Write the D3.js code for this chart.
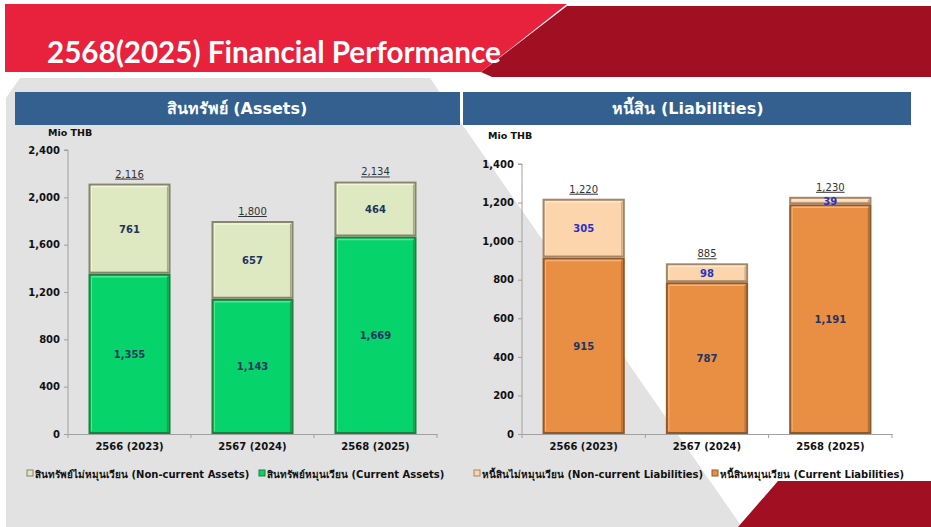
<!DOCTYPE html>
<html><head><meta charset="utf-8">
<script src="https://cdn.jsdelivr.net/npm/d3@7"></script>
<style>
html,body{margin:0;padding:0;background:#fff;}
svg{display:block;}
text{font-family:"DejaVu Sans","Noto Sans",sans-serif;}
</style></head>
<body><svg id="c" width="931" height="527"></svg>
<script>
const categories = ["2566 (2023)", "2567 (2024)", "2568 (2025)"];
const currentAssets = [1355, 1143, 1669];
const nonCurrentAssets = [761, 657, 464];
const totalAssets = [2116, 1800, 2134];
const currentLiabilities = [915, 787, 1191];
const nonCurrentLiabilities = [305, 98, 39];
const totalLiabilities = [1220, 885, 1230];
const assetTicks = [0, 400, 800, 1200, 1600, 2000, 2400];
const liabilityTicks = [0, 200, 400, 600, 800, 1000, 1200, 1400];
const titleText = "2568(2025) Financial Performance";
const assetsHeader = "สินทรัพย์ (Assets)";
const liabilitiesHeader = "หนี้สิน (Liabilities)";
const assetLegend = ["สินทรัพย์ไม่หมุนเวียน (Non-current Assets)", "สินทรัพย์หมุนเวียน (Current Assets)"];
const liabilityLegend = ["หนี้สินไม่หมุนเวียน (Non-current Liabilities)", "หนี้สินหมุนเวียน (Current Liabilities)"];
const unitLabel = "Mio THB";

const svg = d3.select("#c");
const fmt = d3.format(",");

// background decoration
svg.append("polygon").attr("points", "20,78 430,78 742,527 6,527 6,98").attr("fill", "#e2e2e2");
svg.append("polygon").attr("points", "567,6 931,6 931,77 492,77 481,72").attr("fill", "#a00f22");
svg.append("polygon").attr("points", "5,4 567,4 481,72 5,72").attr("fill", "#e8223d");
svg.append("polygon").attr("points", "778,481 931,481 931,527 738,527").attr("fill", "#a00f22");
svg.append("text").attr("x", 47).attr("y", 63).attr("fill", "#fff")
  .style("font-family", "Lato, 'Open Sans', sans-serif").style("font-weight", "bold").style("font-size", "29.6px")
  .text(titleText);

// headers
svg.append("rect").attr("x", 15).attr("y", 92).attr("width", 445).attr("height", 33).attr("fill", "#33608f");
svg.append("rect").attr("x", 463).attr("y", 92).attr("width", 448).attr("height", 33).attr("fill", "#33608f");
svg.append("text").attr("x", 237).attr("y", 114).attr("text-anchor", "middle").attr("fill", "#fff")
  .style("font-weight", "bold").style("font-size", "16px").text(assetsHeader);
svg.append("text").attr("x", 688).attr("y", 114).attr("text-anchor", "middle").attr("fill", "#fff")
  .style("font-weight", "bold").style("font-size", "16px").text(liabilitiesHeader);

function drawChart(cfg) {
  const g = svg.append("g");
  const x = d3.scaleBand().domain(categories).range([cfg.x0, cfg.x1]).paddingInner(0.333).paddingOuter(0.1667);
  const y = d3.scaleLinear().domain([0, cfg.ticks[cfg.ticks.length - 1]]).range([434, cfg.yTop]);

  // y axis
  const ya = g.append("g").attr("transform", `translate(${cfg.x0},0)`)
    .call(d3.axisLeft(y).tickValues(cfg.ticks).tickFormat(fmt).tickSize(4).tickPadding(4));
  ya.select(".domain").attr("stroke", "#a0a0a0").attr("d", `M-4,${y(cfg.ticks[cfg.ticks.length-1])}H0V434`);
  ya.selectAll(".tick line").attr("stroke", "#a0a0a0");
  ya.selectAll("text").attr("fill", "#111").style("font-weight", "bold").style("font-size", "10px")
    .style("font-family", "'DejaVu Sans',sans-serif");

  // x axis
  const xa = g.append("g").attr("transform", "translate(0,434)")
    .call(d3.axisBottom(x).tickSize(0).tickPadding(9));
  xa.select(".domain").attr("stroke", "#a0a0a0");
  xa.selectAll("text").attr("fill", "#111").style("font-weight", "bold").style("font-size", "10px")
    .style("font-family", "'DejaVu Sans',sans-serif");
  const step = x.step();
  g.selectAll(".xt").data(d3.range(categories.length + 1)).enter().append("line")
    .attr("x1", i => cfg.x0 + i * step).attr("x2", i => cfg.x0 + i * step)
    .attr("y1", 434).attr("y2", 438).attr("stroke", "#a0a0a0");

  g.append("text").attr("x", cfg.unitX).attr("y", cfg.unitY).attr("fill", "#111")
    .style("font-weight", "bold").style("font-size", "9.5px").text(unitLabel);

  const bw = x.bandwidth();
  function seg(vals, base, fill, stroke, hi) {
    const sg = g.append("g");
    categories.forEach((c, i) => {
      const y0 = y(base ? base[i] : 0), y1 = y((base ? base[i] : 0) + vals[i]);
      const bx = x(c);
      sg.append("rect").attr("x", bx + 1).attr("y", y1 + 1).attr("width", bw - 2).attr("height", Math.max(0, y0 - y1 - 2))
        .attr("fill", fill).attr("stroke", stroke).attr("stroke-width", 2);
      sg.append("line").attr("x1", bx + 3).attr("x2", bx + bw - 3).attr("y1", y1 + 3).attr("y2", y1 + 3)
        .attr("stroke", hi).attr("stroke-width", 1.5);
      sg.append("line").attr("x1", bx + 3).attr("x2", bx + 3).attr("y1", y1 + 3).attr("y2", y0 - 3)
        .attr("stroke", hi).attr("stroke-width", 1);
      sg.append("line").attr("x1", bx + bw - 3).attr("x2", bx + bw - 3).attr("y1", y1 + 3).attr("y2", y0 - 2)
        .attr("stroke", stroke).attr("stroke-width", 1.2).attr("opacity", 0.6);
    });
  }
  seg(cfg.cur, null, cfg.curFill, cfg.curStroke, cfg.curHi);
  seg(cfg.non, cfg.cur, cfg.nonFill, cfg.nonStroke, cfg.nonHi);

  // segment labels
  categories.forEach((c, i) => {
    const cx = x(c) + bw / 2;
    g.append("text").attr("x", cx).attr("y", y(cfg.cur[i] / 2) + 4).attr("text-anchor", "middle")
      .attr("fill", "#1d3563").style("font-weight", "bold").style("font-size", "10px").text(fmt(cfg.cur[i]));
    g.append("text").attr("x", cx).attr("y", y(cfg.cur[i] + cfg.non[i] / 2) + 4).attr("text-anchor", "middle")
      .attr("fill", cfg.nonLabel).style("font-weight", "bold").style("font-size", "10px").text(fmt(cfg.non[i]));
    g.append("text").attr("x", cx).attr("y", y(cfg.tot[i]) - 6).attr("text-anchor", "middle")
      .attr("fill", "#333").style("font-size", "10px").style("text-decoration", "underline").text(fmt(cfg.tot[i]));
  });

  // legend
  const lg = g.append("g");
  cfg.legend.forEach((t, i) => {
    const lx = cfg.legX[i];
    lg.append("rect").attr("x", lx).attr("y", 470).attr("width", 6).attr("height", 6)
      .attr("fill", i === 0 ? cfg.nonFill : cfg.curFill).attr("stroke", i === 0 ? cfg.nonStroke : cfg.curStroke).attr("stroke-width", 1);
    lg.append("text").attr("x", lx + 8).attr("y", 478).attr("fill", "#111")
      .style("font-weight", "bold").style("font-size", "10px").text(t);
  });
}

drawChart({
  x0: 68, x1: 437, yTop: 150, ticks: assetTicks,
  cur: currentAssets, non: nonCurrentAssets, tot: totalAssets,
  curFill: "#06d46b", curStroke: "#1f7f3f", curHi: "#4fe894",
  nonFill: "#dfe9c1", nonStroke: "#85866b", nonHi: "#f0f5dc",
  nonLabel: "#1d3563",
  unitX: 48, unitY: 136, legend: assetLegend, legX: [27, 259]
});
drawChart({
  x0: 522, x1: 892, yTop: 164, ticks: liabilityTicks,
  cur: currentLiabilities, non: nonCurrentLiabilities, tot: totalLiabilities,
  curFill: "#e98f43", curStroke: "#8e5a2c", curHi: "#f5b27a",
  nonFill: "#fcd5ad", nonStroke: "#a48564", nonHi: "#fde7cf",
  nonLabel: "#2433c4",
  unitX: 488, unitY: 139, legend: liabilityLegend, legX: [474, 712]
});
</script></body></html>
